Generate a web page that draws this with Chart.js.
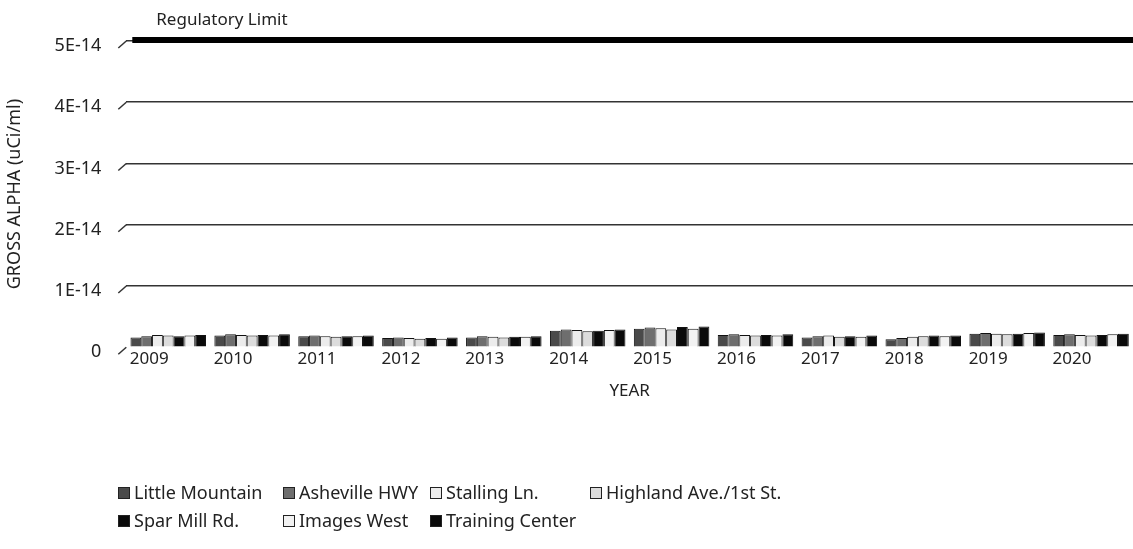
<!DOCTYPE html>
<html>
<head>
<meta charset="utf-8">
<script src="https://cdn.jsdelivr.net/npm/chart.js@4.4.0/dist/chart.umd.min.js"></script>
<style>
  html, body { margin: 0; padding: 0; background: #fff; }
  #wrap { position: relative; width: 1133px; height: 549px; }
  #legend { position: absolute; left: 0; top: 0; width: 1133px; height: 549px; pointer-events: none;
    font-family: 'Noto Sans', sans-serif; font-size: 18px; color: #222; }
  .item { position: absolute; white-space: nowrap; line-height: 22px; }
  .box { display: inline-block; width: 12px; height: 12px; margin-right: 4px; vertical-align: 0px;
    border: 1px solid #222; box-sizing: border-box; }
</style>
</head>
<body>
<div id="wrap">
  <canvas id="c" width="1133" height="549"></canvas>
  <div id="legend"></div>
</div>
<script>
const years = ['2009', '2010', '2011', '2012', '2013', '2014', '2015', '2016', '2017', '2018', '2019', '2020']

// gross alpha, uCi/ml
const littleMountain = [1.6e-15, 1.9e-15, 1.8e-15, 1.5e-15, 1.6e-15, 2.7e-15, 3.0e-15, 2.0e-15, 1.6e-15, 1.3e-15, 2.2e-15, 2.0e-15]
const ashevilleHwy   = [1.8e-15, 2.1e-15, 1.9e-15, 1.6e-15, 1.8e-15, 2.9e-15, 3.2e-15, 2.1e-15, 1.8e-15, 1.5e-15, 2.3e-15, 2.1e-15]
const stallingLn     = [2.0e-15, 2.0e-15, 1.8e-15, 1.5e-15, 1.7e-15, 2.8e-15, 3.1e-15, 2.0e-15, 1.9e-15, 1.7e-15, 2.2e-15, 2.0e-15]
const highlandAve    = [1.9e-15, 1.9e-15, 1.7e-15, 1.4e-15, 1.6e-15, 2.6e-15, 2.9e-15, 1.9e-15, 1.7e-15, 1.8e-15, 2.1e-15, 1.9e-15]
const sparMill       = [1.8e-15, 2.0e-15, 1.8e-15, 1.5e-15, 1.7e-15, 2.7e-15, 3.3e-15, 2.0e-15, 1.8e-15, 1.9e-15, 2.2e-15, 2.0e-15]
const imagesWest     = [1.9e-15, 1.9e-15, 1.8e-15, 1.4e-15, 1.7e-15, 2.8e-15, 3.0e-15, 1.9e-15, 1.7e-15, 1.8e-15, 2.3e-15, 2.1e-15]
const trainingCenter = [2.0e-15, 2.1e-15, 1.9e-15, 1.6e-15, 1.8e-15, 2.9e-15, 3.4e-15, 2.1e-15, 1.9e-15, 1.9e-15, 2.4e-15, 2.2e-15]

const regulatoryLimit = 5e-14
const yTicks = ['0', '1E-14', '2E-14', '3E-14', '4E-14', '5E-14']

const series = [
  { label: 'Little Mountain', data: littleMountain, color: '#4a4a4a' },
  { label: 'Asheville HWY', data: ashevilleHwy, color: '#6e6e6e' },
  { label: 'Stalling Ln.', data: stallingLn, color: '#ececec' },
  { label: 'Highland Ave./1st St.', data: highlandAve, color: '#dcdcdc' },
  { label: 'Spar Mill Rd.', data: sparMill, color: '#0a0a0a' },
  { label: 'Images West', data: imagesWest, color: '#f2f2f2' },
  { label: 'Training Center', data: trainingCenter, color: '#0a0a0a' }
]

const font = "'Noto Sans', sans-serif"

// thick limit line across the plot + its label, and the little 3D corner strokes
const limitLine = {
  id: 'limitLine',
  afterDatasetsDraw (chart) {
    const { ctx, chartArea } = chart
    const yScale = chart.scales.y
    ctx.save()
    ctx.strokeStyle = '#333'
    ctx.lineWidth = 1.5
    yScale.ticks.forEach(t => {
      const ty = yScale.getPixelForValue(t.value)
      ctx.beginPath()
      ctx.moveTo(chartArea.left - 8, ty + 7)
      ctx.lineTo(chartArea.left, ty)
      ctx.stroke()
    })
    const y = yScale.getPixelForValue(regulatoryLimit) - 1
    ctx.strokeStyle = '#000'
    ctx.lineWidth = 6
    ctx.beginPath()
    ctx.moveTo(chartArea.left + 6, y)
    ctx.lineTo(chartArea.right, y)
    ctx.stroke()
    ctx.fillStyle = '#222'
    ctx.font = '17px ' + font
    ctx.textBaseline = 'middle'
    ctx.fillText('Regulatory Limit', chartArea.left + 30, y - 20)
    ctx.restore()
  }
}

const chart = new Chart(document.getElementById('c'), {
  type: 'bar',
  data: {
    labels: years,
    datasets: series.map(s => ({
      label: s.label,
      data: s.data,
      backgroundColor: s.color,
      borderColor: '#111',
      borderWidth: 1,
      barPercentage: 1,
      categoryPercentage: 0.9
    }))
  },
  options: {
    responsive: false,
    animation: false,
    layout: { padding: { top: 41, right: 0, bottom: 144, left: 0 } },
    plugins: { legend: { display: false }, tooltip: { enabled: false } },
    scales: {
      x: {
        grid: { display: false, drawTicks: false },
        border: { display: false },
        ticks: { color: '#222', font: { family: font, size: 17 }, labelOffset: -19, padding: 2 },
        title: { display: true, text: 'YEAR', color: '#222', font: { family: font, size: 17 }, padding: { top: 9 } }
      },
      y: {
        min: 0,
        max: 5e-14,
        border: { display: false },
        grid: {
          color: ctx => ctx.tick && ctx.tick.value === 0 ? 'rgba(0,0,0,0)' : '#333',
          lineWidth: 1.5,
          drawTicks: false
        },
        ticks: {
          stepSize: 1e-14,
          color: '#222',
          padding: 25,
          labelOffset: 5,
          font: { family: font, size: 18 },
          callback: (v, i) => yTicks[i]
        },
        title: { display: true, text: 'GROSS ALPHA (uCi/ml)', color: '#222', font: { family: font, size: 18 }, padding: { bottom: 4 } }
      }
    }
  },
  plugins: [limitLine]
})

// legend, two rows
const legendCols = [118, 283, 430, 590]
const legendRows = [481, 509]
const legendEl = document.getElementById('legend')
series.forEach((s, i) => {
  const el = document.createElement('div')
  el.className = 'item'
  el.style.left = legendCols[i % 4] + 'px'
  el.style.top = legendRows[Math.floor(i / 4)] + 'px'
  el.innerHTML = '<span class="box" style="background:' + s.color + '"></span>' + s.label
  legendEl.appendChild(el)
})
</script>
</body>
</html>
